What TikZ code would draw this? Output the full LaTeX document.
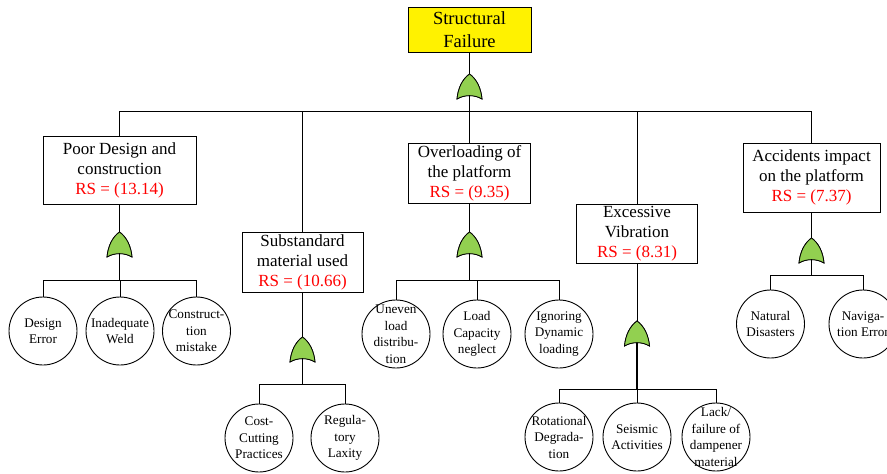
\documentclass[tikz,border=0pt]{standalone}
\usepackage{fontspec}
\setmainfont{Liberation Serif}
\definecolor{gatefill}{HTML}{92D050}
\definecolor{rsred}{HTML}{FF0000}
\tikzset{
  box/.style={draw, fill=white, inner sep=0pt, align=center, line width=0.9pt,
    font=\fontsize{17}{20}\selectfont},
  topbox/.style={box, fill=yellow, font=\fontsize{18.5}{23}\selectfont},
  ev/.style={circle, draw, fill=white, minimum size=68pt, inner sep=0pt, line width=0.9pt,
    label={[evlbl]center:#1}},
  evlbl/.style={align=center, font=\fontsize{13.2}{16.5}\selectfont, inner sep=0pt},
  gatestyle/.style={draw, fill=gatefill, line width=0.8pt},
  conn/.style={draw, line width=0.9pt},
  orgate/.pic={
    \path[gatestyle] (-12.5,0) .. controls (-11.5,-11) and (-7,-20) .. (0,-25)
      .. controls (7,-20) and (11.5,-11) .. (12.5,0)
      .. controls (5,-4.5) and (-5,-4.5) .. cycle;
    \coordinate (-tip) at (0,-25);
    \coordinate (-base) at (0,-3.2);
  }
}
\newcommand{\rs}[1]{\textcolor{rsred}{RS = (#1)}}
\begin{document}
\begin{tikzpicture}[x=1pt,y=-1pt]
\useasboundingbox (0,0) rectangle (887,474);

% top event
\node[topbox, minimum width=123pt, minimum height=45pt] (top) at (469.5,29.5) {Structural\\Failure};
\coordinate (bus0) at (469.5,111);

% intermediate events
\node[box, minimum width=153pt, minimum height=68pt] (b1) at (119.5,170) {Poor Design and\\construction\\\rs{13.14}};
\node[box, minimum width=121pt, minimum height=60pt] (b2) at (302.5,262) {Substandard\\material used\\\rs{10.66}};
\node[box, minimum width=122pt, minimum height=60pt] (b3) at (469.5,173) {Overloading of\\the platform\\\rs{9.35}};
\node[box, minimum width=121pt, minimum height=59pt] (b4) at (637,233.5) {Excessive\\Vibration\\\rs{8.31}};
\node[box, minimum width=137pt, minimum height=69pt] (b5) at (811.5,177.5) {Accidents impact\\on the platform\\\rs{7.37}};

% gate positions (bottom corners)
\coordinate (bus1) at (119.5,280);
\coordinate (bus2) at (302.5,384);
\coordinate (bus3) at (469.5,280);
\coordinate (bus4) at (637,389);
\coordinate (bus5) at (811.5,275);

% basic events
\node[ev={Design\\Error}] (e11) at (43,331) {};
\node[ev={Inadequate\\Weld}] (e12) at (120,331) {};
\node[ev={Construct-\\tion\\mistake}] (e13) at (196.5,331) {};

\node[ev={Cost-\\Cutting\\Practices}] (e21) at (259,438) {};
\node[ev={Regula-\\tory\\Laxity}] (e22) at (345,438) {};

\node[ev={Uneven\\load\\distribu-\\tion}] (e31) at (396,334) {};
\node[ev={Load\\Capacity\\neglect}] (e32) at (477,334) {};
\node[ev={Ignoring\\Dynamic\\loading}] (e33) at (559,334) {};

\node[ev={Rotational\\Degrada-\\tion}] (e41) at (559,437) {};
\node[ev={Seismic\\Activities}] (e42) at (637,437) {};
\node[ev={Lack/\\failure of\\dampener\\material}] (e43) at (716,437) {};

\node[ev={Natural\\Disasters}] (e51) at (770.5,324) {};
\node[ev={Naviga-\\tion Error}] (e52) at (863,324) {};

% gates
\pic (g0) at (469.5,99) {orgate};
\pic (g1) at (119.5,257) {orgate};
\pic (g2) at (302.5,362) {orgate};
\pic (g3) at (469.5,257) {orgate};
\pic (g4) at (637,346) {orgate};
\pic (g5) at (811.5,263) {orgate};

% connectors: top level
\path[conn] (top.south) -- (g0-tip);
\path[conn] (g0-base) -- (bus0);
\path[conn] (b1.north) -- (b1.north |- bus0) -- (b5.north |- bus0) -- (b5.north);
\path[conn] (b2.north) -- (b2.north |- bus0);
\path[conn] (b3.north) -- (b3.north |- bus0);
\path[conn] (b4.north) -- (b4.north |- bus0);

% group 1
\path[conn] (b1.south) -- (g1-tip);
\path[conn] (g1-base) -- (bus1);
\path[conn] (e11.north) -- (e11.north |- bus1) -- (e13.north |- bus1) -- (e13.north);
\path[conn] (e12.north) -- (e12.north |- bus1);

% group 2
\path[conn] (b2.south) -- (g2-tip);
\path[conn] (g2-base) -- (bus2);
\path[conn] (e21.north) -- (e21.north |- bus2) -- (e22.north |- bus2) -- (e22.north);

% group 3
\path[conn] (b3.south) -- (g3-tip);
\path[conn] (g3-base) -- (bus3);
\path[conn] (e31.north) -- (e31.north |- bus3) -- (e33.north |- bus3) -- (e33.north);
\path[conn] (e32.north) -- (e32.north |- bus3);

% group 4
\path[conn] (b4.south) -- (g4-tip);
\path[conn, line width=1.8pt] (g4-base) -- (bus4);
\path[conn] (e41.north) -- (e41.north |- bus4) -- (e43.north |- bus4) -- (e43.north);
\path[conn] (e42.north) -- (e42.north |- bus4);

% group 5
\path[conn] (b5.south) -- (g5-tip);
\path[conn] (g5-base) -- (bus5);
\path[conn] (e51.north) -- (e51.north |- bus5) -- (e52.north |- bus5) -- (e52.north);

% redraw gates above connectors
\pic at (469.5,99) {orgate};
\pic at (119.5,257) {orgate};
\pic at (302.5,362) {orgate};
\pic at (469.5,257) {orgate};
\pic at (637,346) {orgate};
\pic at (811.5,263) {orgate};
\end{tikzpicture}
\end{document}
